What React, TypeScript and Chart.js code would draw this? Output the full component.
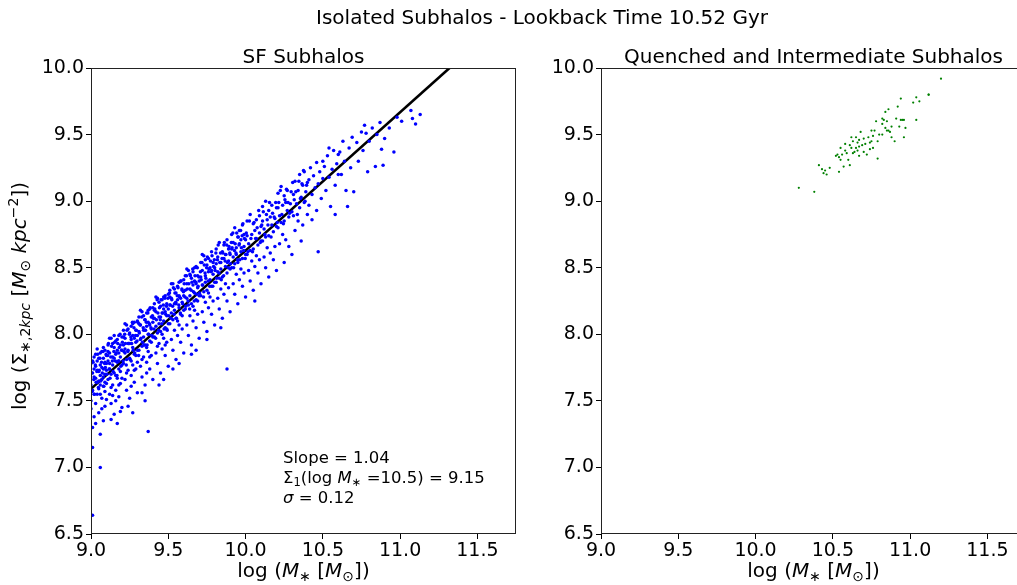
import React, { useEffect, useRef } from 'react';
import { Chart, registerables } from 'chart.js';
Chart.register(...registerables);

const FONT = '"DejaVu Sans"';

const suptitle = 'Isolated Subhalos - Lookback Time 10.52 Gyr';
const leftTitle = 'SF Subhalos';
const rightTitle = 'Quenched and Intermediate Subhalos';
const statLines = ['Slope = 1.04', '9.15', '0.12'];

const xTicks = [9.0, 9.5, 10.0, 10.5, 11.0, 11.5];
const yTicks = [6.5, 7.0, 7.5, 8.0, 8.5, 9.0, 9.5, 10.0];

const fitLineMass = [9.0, 11.32];
const fitLineSigma = [7.59, 10.0];

// star-forming subhalos, [log M*, log Sigma]
const sfBandA = [
  [9.00,7.62],[9.01,7.71],[9.01,7.80],[9.02,7.55],[9.02,7.68],[9.03,7.76],[9.03,7.48],[9.03,7.85],[9.04,7.64],[9.04,7.73],
  [9.05,7.59],[9.05,7.82],[9.05,7.41],[9.06,7.69],[9.06,7.77],[9.07,7.52],[9.07,7.66],[9.07,7.87],[9.08,7.74],[9.08,7.61],
  [9.08,7.35],[9.09,7.79],[9.09,7.70],[9.09,7.46],[9.10,7.84],[9.10,7.63],[9.00,7.78],[9.00,7.50],[9.01,7.58],[9.02,7.83],
  [9.02,7.38],[9.03,7.67],[9.04,7.80],[9.04,7.55],[9.05,7.72],[9.06,7.62],[9.06,7.86],[9.07,7.44],[9.07,7.75],[9.08,7.68],
  [9.08,7.82],[9.09,7.57],[9.09,7.88],[9.10,7.73],[9.10,7.51],[9.00,7.44],[9.01,7.30],[9.02,7.74],[9.04,7.89],[9.05,7.65],
  [9.06,7.55],[9.08,7.90],[9.09,7.64],[9.10,7.78],[9.03,7.33],
  [9.11,7.80],[9.11,7.66],[9.11,7.92],[9.12,7.74],[9.12,7.55],[9.12,7.86],[9.13,7.70],[9.13,7.97],[9.13,7.48],[9.14,7.83],
  [9.14,7.62],[9.14,7.77],[9.15,7.90],[9.15,7.71],[9.15,7.40],[9.16,7.85],[9.16,7.58],[9.16,7.95],[9.17,7.79],[9.17,7.67],
  [9.17,7.88],[9.18,7.53],[9.18,7.74],[9.18,7.99],[9.19,7.83],[9.19,7.63],[9.19,7.92],[9.20,7.77],[9.20,7.45],[9.20,7.88],
  [9.11,7.87],[9.12,7.97],[9.13,7.60],[9.14,7.93],[9.15,7.82],[9.16,7.69],[9.16,7.50],[9.17,7.96],[9.18,7.86],[9.18,7.62],
  [9.19,7.72],[9.20,7.98],[9.20,7.67],[9.13,7.36],[9.17,7.33],[9.19,7.42],[9.12,7.78],[9.15,7.99],[9.18,7.80],[9.14,7.54],
  [9.21,7.92],[9.21,7.78],[9.21,8.03],[9.22,7.86],[9.22,7.66],[9.22,7.97],[9.23,7.81],[9.23,8.07],[9.23,7.58],[9.24,7.93],
  [9.24,7.73],[9.24,7.88],[9.25,8.01],[9.25,7.82],[9.25,7.52],[9.26,7.96],[9.26,7.69],[9.26,8.06],[9.27,7.90],[9.27,7.77],
  [9.27,7.99],[9.28,7.64],[9.28,7.85],[9.28,8.09],[9.29,7.94],[9.29,7.74],[9.29,8.03],[9.30,7.88],[9.30,7.56],[9.30,7.99],
  [9.21,7.98],[9.22,8.08],[9.23,7.71],[9.24,8.04],[9.25,7.93],[9.26,7.80],[9.26,7.61],[9.27,8.08],[9.28,7.97],[9.28,7.73],
  [9.29,7.84],[9.30,8.10],[9.30,7.79],[9.24,7.46],[9.27,7.41],[9.22,7.89],
];

const sfBandB = [
  [9.31,8.02],[9.31,7.88],[9.31,8.13],[9.32,7.96],[9.32,7.76],[9.32,8.07],[9.33,7.91],[9.33,8.17],[9.33,7.68],[9.34,8.03],
  [9.34,7.83],[9.34,7.98],[9.35,8.11],[9.35,7.92],[9.35,7.62],[9.36,8.06],[9.36,7.79],[9.36,8.16],[9.37,8.00],[9.37,7.87],
  [9.37,8.09],[9.38,7.74],[9.38,7.95],[9.38,8.19],[9.39,8.04],[9.39,7.84],[9.39,8.13],[9.40,7.98],[9.40,7.66],[9.40,8.09],
  [9.31,8.08],[9.32,8.18],[9.33,7.81],[9.34,8.14],[9.35,8.03],[9.36,7.90],[9.36,7.71],[9.37,8.18],[9.38,8.07],[9.38,7.83],
  [9.39,7.94],[9.40,8.20],[9.33,7.56],[9.35,7.50],
  [9.41,8.12],[9.41,7.98],[9.41,8.23],[9.42,8.06],[9.42,7.86],[9.42,8.17],[9.43,8.01],[9.43,8.27],[9.43,7.78],[9.44,8.13],
  [9.44,7.93],[9.44,8.08],[9.45,8.21],[9.45,8.02],[9.45,7.71],[9.46,8.16],[9.46,7.89],[9.46,8.26],[9.47,8.10],[9.47,7.97],
  [9.47,8.19],[9.48,7.84],[9.48,8.05],[9.48,8.29],[9.49,8.14],[9.49,7.94],[9.49,8.23],[9.50,8.08],[9.50,7.76],[9.50,8.19],
  [9.41,8.18],[9.42,8.28],[9.43,7.91],[9.44,8.24],[9.45,8.13],[9.46,8.00],[9.47,8.28],[9.48,8.17],[9.48,7.92],[9.49,8.04],
  [9.44,7.62],[9.47,7.66],[9.50,8.30],
  [9.51,8.22],[9.51,8.08],[9.51,8.33],[9.52,8.16],[9.52,7.96],[9.52,8.27],[9.53,8.11],[9.53,8.38],[9.53,7.88],[9.54,8.23],
  [9.54,8.03],[9.54,8.18],[9.55,8.31],[9.55,8.12],[9.55,7.81],[9.56,8.26],[9.56,7.99],[9.56,8.36],[9.57,8.20],[9.57,8.07],
  [9.57,8.29],[9.58,7.94],[9.58,8.15],[9.58,8.40],[9.59,8.24],[9.59,8.04],[9.59,8.33],[9.60,8.18],[9.60,7.86],[9.60,8.29],
  [9.51,8.28],[9.52,8.38],[9.54,8.34],[9.55,8.23],[9.56,8.10],[9.57,8.39],[9.58,8.27],[9.59,8.14],[9.53,7.74],[9.57,7.78],
  [9.60,8.41],
];

const sfBandC = [
  [9.61,8.33],[9.61,8.19],[9.61,8.44],[9.62,8.27],[9.62,8.07],[9.62,8.38],[9.63,8.22],[9.63,8.48],[9.63,7.99],[9.64,8.34],
  [9.64,8.14],[9.64,8.29],[9.65,8.42],[9.65,8.23],[9.65,7.92],[9.66,8.37],[9.66,8.10],[9.66,8.47],[9.67,8.31],[9.67,8.18],
  [9.67,8.40],[9.68,8.05],[9.68,8.26],[9.68,8.51],[9.69,8.35],[9.69,8.15],[9.69,8.44],[9.70,8.29],[9.70,7.97],[9.70,8.40],
  [9.62,8.49],[9.64,8.45],[9.66,8.21],[9.67,8.50],[9.68,8.38],[9.69,8.25],[9.65,7.85],[9.68,7.88],
  [9.71,8.43],[9.71,8.29],[9.71,8.54],[9.72,8.37],[9.72,8.17],[9.72,8.48],[9.73,8.32],[9.73,8.59],[9.73,8.09],[9.74,8.44],
  [9.74,8.24],[9.74,8.39],[9.75,8.52],[9.75,8.33],[9.75,8.02],[9.76,8.47],[9.76,8.20],[9.76,8.57],[9.77,8.41],[9.77,8.28],
  [9.77,8.50],[9.78,8.15],[9.78,8.36],[9.78,8.62],[9.79,8.45],[9.79,8.25],[9.79,8.54],[9.80,8.39],[9.80,8.07],[9.80,8.50],
  [9.72,8.60],[9.74,8.56],[9.76,8.31],[9.78,8.48],[9.75,7.96],
  [9.81,8.53],[9.81,8.39],[9.81,8.64],[9.82,8.47],[9.82,8.27],[9.82,8.58],[9.83,8.42],[9.83,8.69],[9.83,8.19],[9.84,8.54],
  [9.84,8.34],[9.84,8.49],[9.85,8.62],[9.85,8.43],[9.85,8.12],[9.86,8.57],[9.86,8.30],[9.86,8.67],[9.87,8.51],[9.87,8.38],
  [9.87,8.60],[9.88,8.25],[9.88,8.46],[9.88,8.71],[9.89,8.55],[9.89,8.35],[9.89,8.64],[9.90,8.49],[9.90,8.17],[9.90,8.60],
  [9.84,8.05],
  [9.91,8.64],[9.91,8.50],[9.91,8.75],[9.92,8.58],[9.92,8.38],[9.92,8.69],[9.93,8.53],[9.93,8.80],[9.93,8.30],[9.94,8.65],
  [9.94,8.45],[9.94,8.60],[9.95,8.73],[9.95,8.54],[9.95,8.23],[9.96,8.68],[9.96,8.41],[9.96,8.78],[9.97,8.62],[9.97,8.49],
  [9.97,8.71],[9.98,8.36],[9.98,8.57],[9.98,8.82],[9.99,8.66],[9.99,8.46],[9.99,8.75],[10.00,8.60],[10.00,8.28],[10.00,8.71],
];

const sfBandD = [
  [10.01,8.74],[10.01,8.60],[10.01,8.85],[10.02,8.68],[10.02,8.48],[10.03,8.63],[10.03,8.90],[10.03,8.40],[10.04,8.75],[10.04,8.55],
  [10.05,8.83],[10.05,8.64],[10.05,8.33],[10.06,8.78],[10.06,8.51],[10.07,8.72],[10.07,8.59],[10.07,8.86],[10.08,8.46],[10.08,8.67],
  [10.09,8.76],[10.09,8.56],[10.09,8.89],[10.10,8.70],[10.10,8.38],[10.10,8.81],[10.06,8.25],
  [10.11,8.85],[10.11,8.70],[10.11,8.96],[10.12,8.79],[10.12,8.58],[10.13,8.73],[10.13,9.00],[10.13,8.50],[10.14,8.86],[10.14,8.65],
  [10.15,8.93],[10.15,8.74],[10.15,8.43],[10.16,8.88],[10.16,8.61],[10.17,8.82],[10.17,8.97],[10.18,8.56],[10.18,8.77],[10.19,8.87],
  [10.19,8.66],[10.20,8.81],[10.20,8.48],[10.20,8.95],
  [10.21,8.95],[10.21,8.80],[10.21,9.06],[10.22,8.89],[10.22,8.68],[10.23,8.84],[10.23,9.11],[10.24,8.97],[10.24,8.75],[10.25,9.04],
  [10.25,8.85],[10.25,8.54],[10.26,8.99],[10.26,8.71],[10.27,8.93],[10.27,9.08],[10.28,8.66],[10.28,8.88],[10.29,8.98],[10.30,8.92],
  [10.30,8.60],
  [10.31,9.05],[10.31,8.89],[10.32,9.15],[10.32,8.78],[10.33,8.98],[10.34,9.08],[10.34,8.85],[10.35,9.20],[10.35,8.95],[10.36,8.70],
  [10.36,9.03],[10.37,9.12],[10.37,8.82],[10.38,8.99],[10.38,9.22],[10.39,9.07],[10.40,8.90],[10.40,9.14],
  [10.41,9.16],[10.41,8.97],[10.42,9.25],[10.43,9.05],[10.43,8.86],[10.44,9.19],[10.45,9.10],[10.46,9.29],[10.46,8.93],[10.47,8.62],
  [10.47,9.13],[10.48,9.22],[10.49,9.02],[10.50,9.17],[10.50,9.30],
];

const sfBandE = [
  [10.51,9.26],[10.52,9.08],[10.53,9.34],[10.54,9.18],[10.55,8.96],[10.56,9.24],[10.57,9.38],[10.58,9.12],[10.59,9.28],[10.60,9.20],
  [10.58,8.90],[10.54,9.40],[10.60,9.35],
  [10.61,9.37],[10.62,9.20],[10.63,9.45],[10.64,9.30],[10.65,9.08],[10.66,8.96],[10.67,9.40],[10.68,9.25],[10.70,9.07],[10.69,9.48],
  [10.72,9.44],[10.73,9.30],[10.75,9.52],[10.76,9.38],[10.78,9.51],[10.79,9.22],[10.77,9.57],[10.80,9.45],
  [10.82,9.55],[10.84,9.26],[10.85,9.50],[10.88,9.39],[10.89,9.27],[10.87,9.59],[10.90,9.47],
  [10.93,9.55],[10.96,9.37],[10.98,9.63],[11.01,9.60],[11.07,9.68],[11.08,9.62],[11.10,9.58],[11.13,9.65],
];

// dense core of the star-forming sequence
const sfCore = [
  [9.003,7.71],[9.008,7.57],[9.013,7.79],[9.018,7.66],[9.023,7.55],[9.028,7.77],[9.033,7.64],[9.038,7.72],[9.043,7.85],[9.048,7.60],
  [9.053,7.73],[9.058,7.82],[9.063,7.65],[9.068,7.79],[9.073,7.71],[9.078,7.87],[9.083,7.61],[9.088,7.78],[9.093,7.75],[9.098,7.85],
  [9.103,7.70],[9.108,7.84],[9.113,7.93],[9.118,7.74],[9.123,7.67],[9.128,7.83],[9.133,7.91],[9.138,7.80],[9.143,7.72],[9.148,7.87],
  [9.153,7.94],[9.158,7.80],[9.163,7.86],[9.168,7.69],[9.173,7.93],[9.178,7.80],[9.183,7.90],[9.188,8.00],[9.193,7.76],[9.198,7.88],
  [9.203,7.94],[9.208,7.80],[9.213,7.87],[9.218,8.00],[9.223,7.93],[9.228,7.77],[9.233,8.03],[9.238,7.87],[9.243,7.93],[9.248,8.00],
  [9.253,7.81],[9.258,7.98],[9.263,7.93],[9.268,8.09],[9.273,7.88],[9.278,8.05],[9.283,7.86],[9.288,7.99],[9.293,8.03],[9.298,7.95],
  [9.303,8.09],[9.308,7.84],[9.313,8.01],[9.318,8.07],[9.323,7.97],[9.328,8.13],[9.333,7.94],[9.338,8.05],[9.343,7.92],[9.348,8.11],
  [9.353,8.03],[9.358,8.09],[9.363,7.92],[9.368,8.16],[9.373,8.00],[9.378,8.08],[9.383,8.20],[9.388,8.05],[9.393,7.99],[9.398,8.14],
  [9.403,8.12],[9.408,8.04],[9.413,8.19],[9.418,7.97],[9.423,8.11],[9.428,8.26],[9.433,8.16],[9.438,8.03],[9.443,8.20],[9.448,8.11],
  [9.453,8.26],[9.458,8.08],[9.463,8.16],[9.468,8.22],[9.473,8.04],[9.478,8.27],[9.483,8.15],[9.488,8.21],[9.493,8.03],[9.498,8.27],
  [9.503,8.14],[9.508,8.31],[9.513,8.22],[9.518,8.12],[9.523,8.26],[9.528,8.21],[9.533,8.35],[9.538,8.15],[9.543,8.31],[9.548,8.24],
  [9.553,8.12],[9.558,8.29],[9.563,8.35],[9.568,8.22],[9.573,8.28],[9.578,8.16],[9.583,8.40],[9.588,8.34],[9.593,8.23],[9.598,8.32],
  [9.603,8.38],[9.608,8.28],[9.613,8.21],[9.618,8.44],[9.623,8.34],[9.628,8.25],[9.633,8.38],[9.638,8.19],[9.643,8.44],[9.648,8.33],
  [9.653,8.39],[9.658,8.49],[9.663,8.32],[9.668,8.25],[9.673,8.44],[9.678,8.39],[9.683,8.30],[9.688,8.50],[9.693,8.36],[9.698,8.43],
  [9.703,8.31],[9.708,8.47],[9.713,8.41],[9.718,8.54],[9.723,8.37],[9.728,8.28],[9.733,8.52],[9.738,8.46],[9.743,8.42],[9.748,8.50],
  [9.753,8.58],[9.758,8.40],[9.763,8.49],[9.768,8.36],[9.773,8.55],[9.778,8.47],[9.783,8.59],[9.788,8.36],[9.793,8.51],[9.798,8.56],
  [9.803,8.48],[9.808,8.61],[9.813,8.42],[9.818,8.56],[9.823,8.67],[9.828,8.46],[9.833,8.54],[9.838,8.61],[9.843,8.41],[9.848,8.57],
  [9.853,8.61],[9.858,8.44],[9.863,8.69],[9.868,8.55],[9.873,8.60],[9.878,8.67],[9.883,8.54],[9.888,8.50],[9.893,8.66],[9.898,8.61],
  [9.903,8.53],[9.908,8.69],[9.913,8.65],[9.918,8.76],[9.923,8.50],[9.928,8.63],[9.933,8.68],[9.938,8.61],[9.943,8.76],[9.948,8.56],
  [9.953,8.73],[9.958,8.67],[9.963,8.56],[9.968,8.78],[9.973,8.65],[9.978,8.74],[9.983,8.83],[9.988,8.63],[9.993,8.72],[9.998,8.57],
  [10.005,8.76],[10.015,8.62],[10.025,8.85],[10.035,8.72],[10.045,8.62],[10.055,8.84],[10.065,8.72],[10.075,8.80],[10.085,8.93],[10.095,8.69],
  [10.105,8.82],[10.115,8.92],[10.125,8.75],[10.135,8.90],[10.145,8.82],[10.155,8.99],[10.165,8.73],[10.175,8.91],[10.185,8.88],[10.195,8.99],
  [10.205,8.84],[10.215,8.99],[10.225,9.08],[10.235,8.90],[10.245,8.83],[10.255,9.01],[10.265,9.09],[10.275,8.99],[10.285,8.91],[10.295,9.07],
  [10.305,9.14],[10.315,9.01],[10.325,9.07],[10.335,8.90],[10.345,9.15],[10.355,9.02],[10.365,9.13],[10.375,9.23],[10.385,9.00],[10.395,9.12],
];

const sfOutliers = [
  [9.06,7.25],[9.01,7.15],[9.06,7.00],[9.01,6.64],[9.37,7.27],[9.88,7.74],
];

// quenched + intermediate subhalos
const qSubhalos = [
  [10.28,9.10],[10.38,9.07],[10.41,9.27],[10.43,9.24],[10.45,9.23],[10.44,9.21],[10.46,9.20],[10.48,9.25],[10.54,9.22],[10.52,9.34],
  [10.53,9.35],[10.54,9.33],[10.55,9.31],[10.55,9.40],[10.57,9.26],[10.58,9.38],[10.58,9.43],[10.60,9.31],[10.61,9.27],[10.62,9.48],
  [10.63,9.45],[10.62,9.40],[10.64,9.37],[10.65,9.40],[10.65,9.48],[10.66,9.38],[10.66,9.44],[10.67,9.34],[10.67,9.46],[10.68,9.52],
  [10.69,9.42],[10.70,9.47],[10.72,9.35],[10.73,9.48],[10.74,9.39],[10.75,9.53],[10.75,9.45],[10.76,9.49],[10.76,9.40],[10.78,9.60],
  [10.79,9.45],[10.79,9.32],[10.82,9.50],[10.82,9.62],[10.82,9.58],[10.83,9.61],[10.84,9.67],[10.84,9.55],[10.85,9.53],[10.85,9.60],
  [10.86,9.69],[10.86,9.53],[10.87,9.52],[10.88,9.48],[10.90,9.45],[10.92,9.71],[10.93,9.56],[10.94,9.77],[10.94,9.61],[10.95,9.61],
  [10.96,9.61],[10.96,9.48],[10.97,9.55],[11.02,9.74],[11.04,9.78],[11.06,9.75],[11.04,9.61],[11.12,9.80],[11.12,9.80],[11.20,9.92],
  [10.59,9.36],[10.63,9.36],[10.67,9.41],[10.71,9.43],[10.74,9.44],[10.80,9.50],[10.77,9.53],[10.56,9.35],[10.61,9.42],[10.70,9.37],
  [10.88,9.56],[10.91,9.62],
];

type Seg = { t: string; s?: number; it?: boolean; dy?: number };

function drawRich(ctx: CanvasRenderingContext2D, segs: Seg[], x: number, y: number, size: number, align: 'left' | 'center') {
  const fontOf = (g: Seg) => `${g.it ? 'italic ' : ''}${(size * (g.s ?? 1)).toFixed(1)}px ${FONT}`;
  let w = 0;
  for (const g of segs) {
    ctx.font = fontOf(g);
    w += ctx.measureText(g.t).width;
  }
  let cx = align === 'center' ? x - w / 2 : x;
  ctx.textAlign = 'left';
  ctx.textBaseline = 'alphabetic';
  for (const g of segs) {
    ctx.font = fontOf(g);
    ctx.fillText(g.t, cx, y + (g.dy ?? 0) * size);
    cx += ctx.measureText(g.t).width;
  }
}

const xLabelSegs: Seg[] = [
  { t: 'log (' }, { t: 'M', it: true }, { t: '∗', s: 0.7, dy: 0.2 }, { t: ' [' }, { t: 'M', it: true },
  { t: '⊙', s: 0.7, dy: 0.2 }, { t: '])' },
];
const yLabelSegs: Seg[] = [
  { t: 'log (Σ' }, { t: '∗,2', s: 0.7, dy: 0.2 }, { t: 'kpc', s: 0.7, dy: 0.2, it: true }, { t: ' [' },
  { t: 'M', it: true }, { t: '⊙', s: 0.7, dy: 0.2 }, { t: ' ' }, { t: 'kpc', it: true },
  { t: '−2', s: 0.7, dy: -0.42 }, { t: '])' },
];

function makeOptions(title: string, showYLabel: boolean, stats: boolean) {
  const axisCommon = {
    type: 'linear' as const,
    grid: { display: true, drawOnChartArea: false, drawTicks: true, tickLength: 5, color: '#000', lineWidth: 1 },
    border: { display: false },
  };
  const panelPlugin = {
    id: 'panelDecor',
    afterDraw(chart: any) {
      const { ctx, chartArea: a } = chart;
      ctx.save();
      ctx.strokeStyle = '#222';
      ctx.lineWidth = 1;
      ctx.strokeRect(Math.round(a.left) + 0.5, Math.round(a.top) + 0.5, Math.round(a.right - a.left) - 1, Math.round(a.bottom - a.top) - 1);
      ctx.fillStyle = '#000';
      const cx = (a.left + a.right) / 2;
      drawRich(ctx, [{ t: title }], cx, 63, 20, 'center');
      drawRich(ctx, xLabelSegs, cx, 577, 20, 'center');
      if (showYLabel) {
        ctx.save();
        ctx.translate(26, 296);
        ctx.rotate(-Math.PI / 2);
        drawRich(ctx, yLabelSegs, 0, 0, 20, 'center');
        ctx.restore();
      }
      if (stats) {
        const sx = 283;
        drawRich(ctx, [{ t: statLines[0] }], sx, 463, 16.5, 'left');
        drawRich(ctx, [
          { t: 'Σ' }, { t: '1', s: 0.7, dy: 0.2 }, { t: '(log ' }, { t: 'M', it: true }, { t: '∗', s: 0.7, dy: 0.2 },
          { t: ' =10.5) = ' + statLines[1] },
        ], sx, 483, 16.5, 'left');
        drawRich(ctx, [{ t: 'σ', it: true }, { t: ' = ' + statLines[2] }], sx, 503, 16.5, 'left');
      }
      ctx.restore();
    },
  };
  return {
    plugin: panelPlugin,
    options: {
      animation: false as const,
      responsive: false,
      layout: { padding: { top: 68, right: 24, left: 0, bottom: 0 } },
      plugins: { legend: { display: false }, tooltip: { enabled: false }, title: { display: false } },
      scales: {
        x: {
          ...axisCommon,
          min: 9.0,
          max: 11.75,
          afterBuildTicks: (s: any) => { s.ticks = xTicks.map((v) => ({ value: v })); },
          afterFit: (s: any) => { s.height = 51; },
          ticks: {
            font: { family: 'DejaVu Sans', size: 19 }, color: '#000', padding: 1, maxRotation: 0, autoSkip: false,
            callback: (v: any) => Number(v).toFixed(1),
          },
        },
        y: {
          ...axisCommon,
          min: 6.5,
          max: 10.0,
          afterBuildTicks: (s: any) => { s.ticks = yTicks.map((v) => ({ value: v })); },
          afterFit: (s: any) => { s.width = 91; },
          ticks: {
            font: { family: 'DejaVu Sans', size: 19 }, color: '#000', padding: 2, autoSkip: false,
            callback: (v: any) => Number(v).toFixed(1),
          },
        },
      },
    },
  };
}

const toPts = (arr: number[][]) => arr.map(([x, y]) => ({ x, y }));

export default function App() {
  const leftRef = useRef<HTMLCanvasElement>(null);
  const rightRef = useRef<HTMLCanvasElement>(null);
  const topRef = useRef<HTMLCanvasElement>(null);

  useEffect(() => {
    const l = makeOptions(leftTitle, true, true);
    const sfAll = [...sfBandA, ...sfBandB, ...sfBandC, ...sfBandD, ...sfBandE, ...sfCore, ...sfOutliers];
    const left = new Chart(leftRef.current!, {
      type: 'scatter',
      data: {
        datasets: [
          { data: toPts(sfAll), backgroundColor: '#0000ff', pointRadius: 1.75, borderWidth: 0, pointHoverRadius: 0 },
          {
            data: fitLineMass.map((x, i) => ({ x, y: fitLineSigma[i] })),
            showLine: true, borderColor: '#000', borderWidth: 2.6, pointRadius: 0, fill: false,
          },
        ],
      },
      options: l.options as any,
      plugins: [l.plugin],
    });
    const r = makeOptions(rightTitle, false, false);
    const right = new Chart(rightRef.current!, {
      type: 'scatter',
      data: {
        datasets: [
          { data: toPts(qSubhalos), backgroundColor: '#008000', pointRadius: 1.1, borderWidth: 0, pointHoverRadius: 0 },
        ],
      },
      options: r.options as any,
      plugins: [r.plugin],
    });
    const tc = topRef.current!;
    const ctx = tc.getContext('2d')!;
    ctx.clearRect(0, 0, tc.width, tc.height);
    ctx.fillStyle = '#000';
    drawRich(ctx, [{ t: suptitle }], 542, 24, 20, 'center');
    return () => {
      left.destroy();
      right.destroy();
    };
  }, []);

  return (
    <div style={{ position: 'absolute', left: 0, top: 0, width: 1017, height: 585, overflow: 'hidden', background: '#fff' }}>
      <canvas ref={leftRef} width={540} height={585} style={{ position: 'absolute', left: 0, top: 0 }} />
      <canvas ref={rightRef} width={540} height={585} style={{ position: 'absolute', left: 510, top: 0 }} />
      <canvas ref={topRef} width={1017} height={40} style={{ position: 'absolute', left: 0, top: 0, pointerEvents: 'none' }} />
    </div>
  );
}
